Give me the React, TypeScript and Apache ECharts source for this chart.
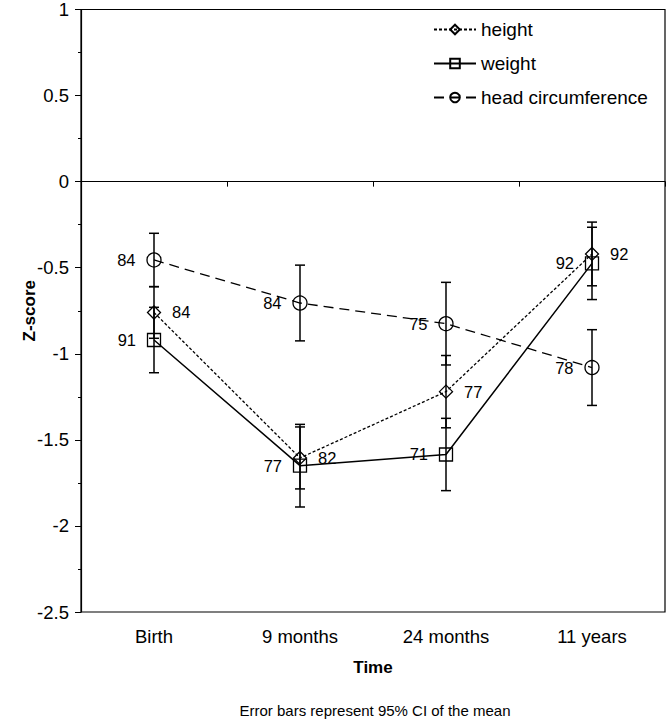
import React, { useEffect, useRef } from "react";
import * as echarts from "echarts";

const categories = ["Birth", "9 months", "24 months", "11 years"];

const heightMean = [-0.76, -1.605, -1.22, -0.42];
const heightCI = [0.15, 0.18, 0.21, 0.185];
const heightN = ["84", "82", "77", "92"];

const weightMean = [-0.92, -1.65, -1.585, -0.475];
const weightCI = [0.19, 0.24, 0.21, 0.21];
const weightN = ["91", "77", "71", "92"];

const headMean = [-0.455, -0.705, -0.825, -1.08];
const headCI = [0.155, 0.22, 0.24, 0.22];
const headN = ["84", "84", "75", "78"];

const yTicksMin = -2.5;
const yTicksMax = 1;
const yTickStep = 0.5;

const FONT = "'Liberation Sans', Arial, sans-serif";

function errData(mean: number[], ci: number[]) {
  return mean.map((m, i) => [i, m - ci[i], m + ci[i]]);
}

function errSeries(name: string, mean: number[], ci: number[]) {
  return {
    type: "custom",
    name: name + "-err",
    data: errData(mean, ci),
    z: 3,
    silent: true,
    renderItem: (params: any, api: any) => {
      const x = api.value(0);
      const lo = api.coord([x, api.value(1)]);
      const hi = api.coord([x, api.value(2)]);
      const w = 5;
      const style = { stroke: "#000", lineWidth: 1.5 };
      return {
        type: "group",
        children: [
          { type: "line", shape: { x1: lo[0], y1: lo[1], x2: hi[0], y2: hi[1] }, style },
          { type: "line", shape: { x1: lo[0] - w, y1: lo[1], x2: lo[0] + w, y2: lo[1] }, style },
          { type: "line", shape: { x1: hi[0] - w, y1: hi[1], x2: hi[0] + w, y2: hi[1] }, style },
        ],
      };
    },
  };
}

export default function App() {
  const ref = useRef<HTMLDivElement>(null);
  useEffect(() => {
    if (!ref.current) return;
    const chart = echarts.init(ref.current, undefined, { renderer: "svg" });
    const labelStyle = { show: true, fontSize: 16.5, color: "#000", fontFamily: FONT, distance: 9 };
    chart.setOption({
      animation: false,
      textStyle: { fontFamily: FONT, color: "#000" },
      grid: {
        left: 81,
        right: 2,
        top: 6,
        bottom: 109,
        show: true,
        borderColor: "#000",
        borderWidth: 1.2,
      },
      legend: {
        orient: "vertical",
        left: 428,
        top: 15,
        itemWidth: 42,
        itemHeight: 12,
        itemGap: 15,
        textStyle: { fontSize: 19, color: "#000", fontFamily: FONT },
        data: ["height", "weight", "head circumference"],
      },
      xAxis: {
        type: "category",
        data: categories,
        boundaryGap: true,
        name: "Time",
        nameLocation: "middle",
        nameGap: 47,
        nameMoveOverlap: false,
        nameTextStyle: { fontSize: 17, fontWeight: "bold", color: "#000", fontFamily: FONT },
        axisLine: { lineStyle: { color: "#000", width: 1.2 } },
        axisTick: { show: true, inside: false, length: 5, lineStyle: { color: "#000" } },
        axisLabel: { fontSize: 18.5, color: "#000", margin: 15, fontFamily: FONT },
        splitLine: { show: false },
      },
      yAxis: {
        type: "value",
        min: yTicksMin,
        max: yTicksMax,
        interval: yTickStep,
        name: "Z-score",
        nameLocation: "middle",
        nameGap: 43,
        nameMoveOverlap: false,
        nameRotate: 90,
        nameTextStyle: { fontSize: 17, fontWeight: "bold", color: "#000", fontFamily: FONT },
        axisLine: { show: true, lineStyle: { color: "#000", width: 1.2 } },
        axisTick: { show: true, inside: false, length: 6, lineStyle: { color: "#000" } },
        minorTick: { show: true, splitNumber: 2, length: 3, lineStyle: { color: "#000" } },
        axisLabel: { fontSize: 18.5, color: "#000", margin: 12, fontFamily: FONT },
        splitLine: { show: false },
      },
      graphic: [
        {
          type: "text",
          x: 375,
          y: 710,
          style: {
            text: "Error bars represent 95% CI of the mean",
            fontSize: 15,
            fill: "#000",
            fontFamily: FONT,
            align: "center",
            verticalAlign: "middle",
          },
        },
      ],
      series: [
        errSeries("height", heightMean, heightCI),
        errSeries("weight", weightMean, weightCI),
        errSeries("head", headMean, headCI),
        {
          type: "line",
          name: "height",
          data: heightMean,
          symbol: "diamond",
          symbolSize: 13,
          z: 4,
          lineStyle: { color: "#000", width: 1.3, type: [3, 2] },
          itemStyle: { color: "none", borderColor: "#000", borderWidth: 1.3 },
          label: { ...labelStyle, position: "right", formatter: (p: any) => heightN[p.dataIndex] },
          markLine: {
            silent: true,
            symbol: "none",
            label: { show: false },
            lineStyle: { color: "#000", type: "solid", width: 1.2 },
            data: [{ yAxis: 0 }],
          },
        },
        {
          type: "line",
          name: "weight",
          data: weightMean,
          symbol: "rect",
          symbolSize: 13,
          z: 4,
          lineStyle: { color: "#000", width: 1.5, type: "solid" },
          itemStyle: { color: "none", borderColor: "#000", borderWidth: 1.3 },
          label: { ...labelStyle, position: "left", formatter: (p: any) => weightN[p.dataIndex] },
        },
        {
          type: "line",
          name: "head circumference",
          data: headMean,
          symbol: "circle",
          symbolSize: 14,
          z: 4,
          lineStyle: { color: "#000", width: 1.3, type: [10, 6] },
          itemStyle: { color: "none", borderColor: "#000", borderWidth: 1.3 },
          label: { ...labelStyle, position: "left", formatter: (p: any) => headN[p.dataIndex] },
        },
      ],
    });
    return () => chart.dispose();
  }, []);
  return <div ref={ref} style={{ width: 667, height: 721, position: "absolute", left: 0, top: 0 }} />;
}
